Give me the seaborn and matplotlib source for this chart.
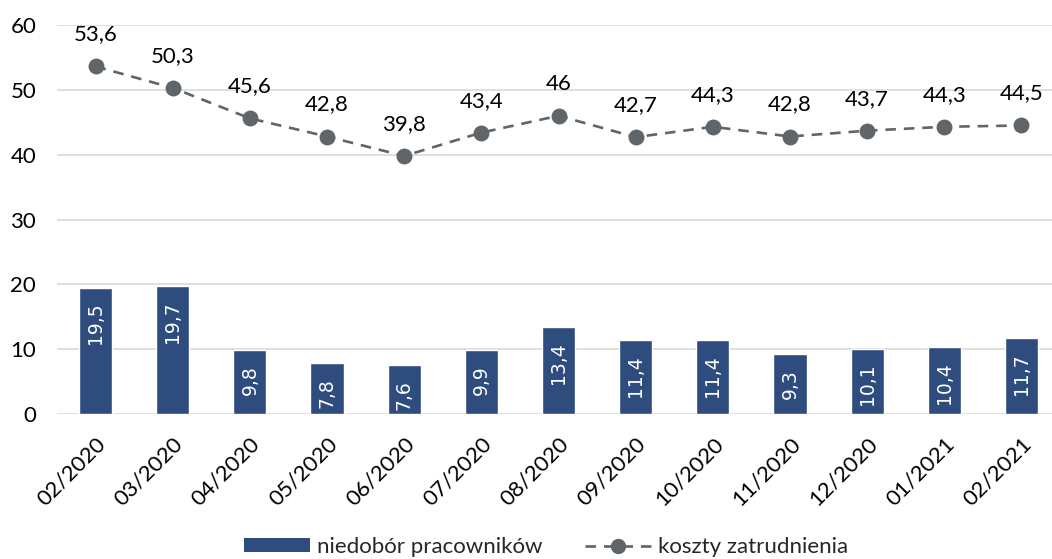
import matplotlib
matplotlib.use("Agg")
import matplotlib.pyplot as plt
import seaborn as sns
import pandas as pd
from matplotlib.patches import Patch
from matplotlib.lines import Line2D

months = ["02/2020", "03/2020", "04/2020", "05/2020", "06/2020", "07/2020", "08/2020",
          "09/2020", "10/2020", "11/2020", "12/2020", "01/2021", "02/2021"]
niedobor = [19.5, 19.7, 9.8, 7.8, 7.6, 9.9, 13.4, 11.4, 11.4, 9.3, 10.1, 10.4, 11.7]
koszty = [53.6, 50.3, 45.6, 42.8, 39.8, 43.4, 46.0, 42.7, 44.3, 42.8, 43.7, 44.3, 44.5]
yticks = [0, 10, 20, 30, 40, 50, 60]

bar_color = "#2E4D7E"
line_color = "#5F6569"
fs = 16

sns.set_theme(style="white")
plt.rcParams["font.family"] = ["Lato", "DejaVu Sans"]

df = pd.DataFrame({"miesiac": months, "niedobor": niedobor, "koszty": koszty})


def fmt(v):
    s = f"{v:.1f}".replace(".", ",")
    return s[:-2] if s.endswith(",0") else s


fig = plt.figure(figsize=(10.52, 5.59), dpi=100)
ax = fig.add_axes([57 / 1052, (559 - 414) / 559, 1003 / 1052, 389 / 559])

sns.barplot(data=df, x="miesiac", y="niedobor", color=bar_color, width=0.43,
            saturation=1, ax=ax, zorder=2)
sns.pointplot(data=df, x="miesiac", y="koszty", color=line_color, linestyle="--",
              marker="o", markersize=10, linewidth=1.9, ax=ax, zorder=3)
for ln in ax.lines:
    ln.set_dashes([4, 3])

ax.set_xlim(-0.5, 12.5)
ax.set_ylim(0, 60)
ax.set_yticks(yticks)
ax.set_yticklabels([str(t) for t in yticks])
ax.grid(axis="y", color="#D9D9D9", linewidth=1.2, zorder=0)
ax.set_axisbelow(True)
for sp in ax.spines.values():
    sp.set_visible(False)
ax.set_xlabel("")
ax.set_ylabel("")
ax.tick_params(axis="y", length=0, pad=15, labelsize=fs, labelcolor="black")
ax.tick_params(axis="x", length=0, pad=14, labelsize=fs, labelcolor="black")
plt.setp(ax.get_xticklabels(), rotation=45, ha="right", va="top", rotation_mode="anchor")

# values written inside the bars, near the top
for i, v in enumerate(niedobor):
    ax.annotate(fmt(v), xy=(i, v), xytext=(0, -11), textcoords="offset points",
                rotation=90, ha="center", va="top", color="white", fontsize=13.5,
                family="DejaVu Sans", zorder=4)

# values written above the line markers
for i, v in enumerate(koszty):
    ax.annotate(fmt(v), xy=(i, v), xytext=(0, 23), textcoords="offset points",
                ha="center", va="center", color="black", fontsize=fs,
                annotation_clip=False, zorder=4)

handles = [
    Patch(facecolor=bar_color, edgecolor="none"),
    Line2D([0], [0], color=line_color, linestyle=(0, (4, 3)), linewidth=1.9,
           marker="o", markersize=10),
]
fig.legend(handles, ["niedobór pracowników", "koszty zatrudnienia"],
           loc="center", bbox_to_anchor=(546 / 1052, 1 - 547 / 559), ncol=2,
           frameon=False, fontsize=fs, handlelength=3.0, handleheight=0.6,
           handletextpad=0.3, columnspacing=1.9)

fig.savefig("out.png", dpi=100)
